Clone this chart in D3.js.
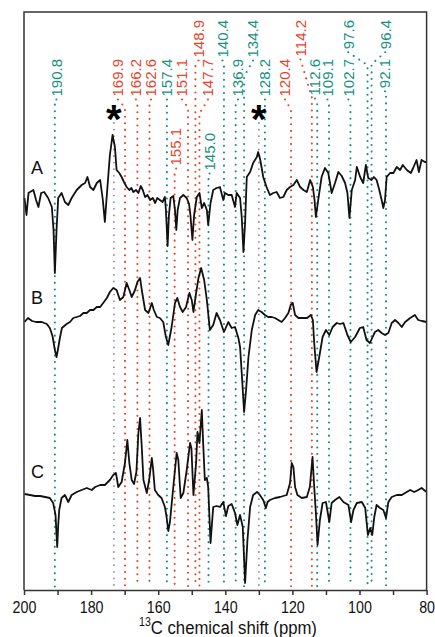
<!DOCTYPE html>
<html>
<head>
<meta charset="utf-8">
<script src="https://cdn.jsdelivr.net/npm/d3@7"></script>
<style>
  body { margin: 0; background: #fff; }
  svg { display: block; font-family: "Liberation Sans", Arial, sans-serif; }
</style>
</head>
<body>
<svg id="chart" width="435" height="637"></svg>
<script>
// assigned shifts (ppm)
const tealShifts = [190.8, 157.4, 145.0, 140.4, 136.9, 134.4, 128.2, 112.6, 109.1, 102.7, 97.6, 96.4, 92.1];
const redShifts = [169.9, 166.2, 162.6, 155.1, 151.1, 148.9, 147.7, 120.4, 114.2];
const starShifts = [173.2, 130.0];

// axis ticks
const tickValues = [200, 190, 180, 170, 160, 150, 140, 130, 120, 110, 100, 90, 80];
const tickLabels = ["200", "180", "160", "140", "120", "100", "80"];

// spectra: [ppm, intensity]
const spectrumA = [
  [199.85, -6], [199.25, -23], [198.66, -1], [198.2, 0], [197.2, 2], [196.4, -8], [195.7, -15],
  [194.9, -1], [194.0, 0], [192.8, -6], [191.7, -15], [191.2, -38], [190.8, -81], [190.3, -38],
  [189.8, -6], [188.8, -1], [187.8, -10], [186.8, -13], [185.8, -6], [184.3, 2], [182.8, 7],
  [181.8, 9], [181.1, 15], [180.3, 5], [179.3, 2], [178.3, 9], [177.3, 12], [176.5, -8],
  [175.9, -30], [175.2, 2], [174.9, 15], [174.4, 37], [173.6, 57], [172.9, 45], [172.4, 22],
  [171.6, 19], [170.9, 15], [170.2, 10], [169.4, 5], [168.6, 2], [168.0, 4], [167.4, 0],
  [166.6, 2], [165.9, -1], [165.2, 6], [164.6, 2], [163.9, -5], [163.2, -3], [162.4, -8],
  [161.6, -6], [160.9, -11], [160.3, -6], [159.5, -8], [158.7, -10], [158.0, -5], [157.7, -18],
  [157.2, -54], [156.8, -23], [156.3, -6], [155.5, -4], [155.0, -18], [154.6, -38], [154.2, -18],
  [153.5, -6], [152.5, -3], [151.5, -6], [150.8, -12], [150.4, -23], [149.8, -48], [149.3, -23],
  [148.5, -5], [147.7, -1], [147.0, -16], [146.3, -11], [145.5, -18], [145.1, -33], [144.4, -11],
  [143.6, 2], [142.6, 4], [141.6, 5], [140.6, -8], [140.1, -1], [139.1, -3], [138.1, -3],
  [137.1, -15], [136.6, -1], [135.6, -6], [135.1, -25], [134.6, -60], [134.1, -31], [133.6, 15],
  [132.6, 20], [131.7, 29], [130.6, 35], [130.2, 40], [129.7, 34], [129.2, 25], [128.7, 15],
  [127.7, 5], [126.7, -3], [125.7, -1], [124.7, 0], [123.7, -6], [122.7, -5], [121.7, 2],
  [120.7, 5], [119.7, 7], [118.7, 12], [117.7, 5], [116.7, 2], [115.7, 0], [114.7, 12],
  [113.9, 5], [113.4, -8], [113.0, -25], [112.3, -8], [111.3, 15], [110.3, 24], [109.3, 19],
  [108.3, -1], [107.3, 9], [106.3, 20], [105.3, 16], [104.3, 9], [103.6, -1], [103.0, -26],
  [102.3, 2], [101.3, 12], [100.8, 25], [99.8, 15], [98.9, 9], [98.1, 27], [97.4, 14],
  [96.4, 12], [95.7, 15], [94.9, 12], [94.1, 2], [93.4, -8], [92.9, -16], [92.4, -8],
  [91.9, 15], [90.9, 19], [89.9, 19], [88.9, 25], [87.9, 22], [87.1, 27], [85.9, 22],
  [84.7, 19], [84.0, 24], [83.0, 32], [82.3, 20], [81.5, 32], [80.5, 30], [80.0, 30]
];

const spectrumB = [
  [199.85, 0], [198.8, 4], [197.6, 1], [196.4, 0], [194.7, 0], [193.2, -2], [192.3, -6],
  [191.5, -14], [190.8, -28], [190.3, -35], [189.8, -26], [189.3, -16], [188.7, -6], [187.3, -2],
  [186.3, 0], [185.3, 4], [184.3, 5], [183.3, 6], [182.3, 9], [181.3, 9], [180.3, 12],
  [179.3, 12], [178.3, 15], [177.3, 15], [176.4, 19], [175.3, 24], [174.4, 30], [173.4, 34],
  [172.4, 32], [171.4, 22], [170.4, 25], [169.4, 39], [168.6, 32], [167.9, 25], [166.9, 32],
  [166.2, 40], [165.4, 44], [164.9, 32], [163.9, 12], [162.9, 9], [161.9, 19], [161.3, 12],
  [160.4, 5], [159.5, 4], [158.5, 0], [157.7, -15], [157.0, -23], [156.0, -5], [155.0, 19],
  [154.3, 24], [153.5, 15], [152.7, 10], [151.7, 15], [150.7, 29], [150.0, 22], [149.5, 10],
  [148.7, 29], [148.0, 44], [147.2, 54], [146.3, 42], [145.5, 22], [144.6, -8], [143.6, -3],
  [142.6, 9], [141.6, 2], [140.4, -10], [139.1, 0], [138.1, -6], [137.1, -5], [136.1, -16],
  [135.6, -25], [135.1, -51], [134.4, -90], [133.8, -68], [133.1, -35], [132.1, -8], [131.1, 7],
  [130.2, 12], [129.2, 10], [128.2, 7], [127.2, 5], [126.2, 5], [125.2, 4], [124.2, 2],
  [123.2, 0], [122.2, 4], [121.2, 9], [120.5, 17], [119.9, 19], [119.2, 7], [118.2, 4],
  [116.9, 4], [115.6, 4], [114.5, 7], [113.9, 2], [113.5, -21], [112.8, -50], [112.0, -35],
  [111.0, -15], [110.0, -8], [109.0, -13], [108.0, -5], [106.8, -1], [105.8, -2], [104.8, -1],
  [103.6, -13], [102.6, -20], [101.3, -15], [99.9, -6], [98.9, -5], [97.9, -18], [96.9, -21],
  [96.1, -15], [95.4, -10], [94.4, -8], [93.4, -11], [92.4, -13], [91.4, -11], [90.4, -1],
  [89.4, 2], [88.4, -1], [87.4, -5], [86.4, 0], [84.9, 4], [83.5, 7], [82.5, 2], [81.4, 1], [80.0, 0]
];

const spectrumC = [
  [199.85, 1], [198.2, 0], [196.7, -1], [195.2, -1], [193.7, -2], [192.3, -3], [191.3, -8],
  [190.6, -20], [190.3, -40], [190.1, -52], [189.8, -30], [189.5, -15], [188.8, -3], [187.8, 0],
  [186.8, -7], [185.8, 0], [184.3, 3], [182.8, 5], [181.3, 7], [179.8, 5], [178.8, 8],
  [177.3, 10], [175.9, 10], [174.4, 15], [173.4, 20], [172.6, 22], [171.9, 8], [170.9, 13],
  [169.9, 32], [169.2, 55], [168.6, 32], [167.9, 15], [167.2, 11], [166.5, 23], [165.9, 62],
  [165.4, 77], [164.9, 48], [164.4, 15], [163.4, 2], [162.7, 15], [161.9, 37], [161.5, 25],
  [161.0, 5], [160.0, 0], [159.0, -3], [158.0, -12], [157.5, -22], [157.0, -36], [156.5, -27],
  [155.5, 8], [154.5, 42], [154.0, 35], [153.3, -3], [152.5, 2], [151.5, 25], [150.5, 52],
  [150.1, 47], [149.5, 0], [148.7, 32], [148.3, 63], [147.7, 52], [147.0, 85], [146.6, 52],
  [146.1, 15], [145.5, 17], [145.1, 8], [144.4, -48], [143.6, -12], [142.6, -11], [141.6, -12],
  [140.6, -7], [139.8, -21], [139.1, -11], [138.1, -9], [137.1, -18], [136.4, -30], [135.6, -20],
  [134.8, -32], [134.1, -88], [133.4, -45], [132.6, -12], [131.7, 0], [130.5, 3], [129.7, 0],
  [128.7, -5], [127.9, -13], [127.4, -7], [126.7, -5], [125.2, -3], [123.7, -2], [121.7, 0],
  [120.7, 12], [120.2, 32], [119.7, 28], [119.2, 8], [118.5, 0], [117.2, -3], [115.7, -2],
  [114.8, 8], [114.0, 38], [113.5, 8], [113.0, -18], [112.5, -50], [111.8, -25], [111.0, -8],
  [110.0, -7], [109.0, -27], [108.3, -8], [107.3, -5], [106.0, -2], [104.8, -7], [103.3, -10],
  [102.5, -27], [101.8, -15], [100.8, -8], [99.3, -7], [98.3, -13], [97.5, -40], [96.8, -33],
  [96.2, -40], [95.6, -22], [94.9, -10], [93.9, -13], [92.9, -15], [92.1, -23], [91.4, -7],
  [90.4, -2], [88.9, 0], [87.4, 0], [85.9, 3], [84.9, 5], [83.7, 3], [82.5, 5], [81.5, 7], [80.0, 3]
];

const traceNames = ["A", "B", "C"];

// layout
const frame = { left: 24, right: 426.6, top: 12, bottom: 590 };
const traceBase = [192, 322, 495];
const labelTops = [20, 59, 128, 133];
// label layout: [row, x shift (px), leader drop (px)]
const labelLayout = {
  "190.8": [1, 1.5, 0], "169.9": [1, -7, 8], "166.2": [1, -1.5, 2], "162.6": [1, 1.5, 2],
  "157.4": [1, 0, 0], "155.1": [2, 1.5, 2], "151.1": [1, -6, 8], "148.9": [0, 3, 4],
  "147.7": [1, 8.5, 14], "145.0": [3, 1, 0], "140.4": [0, -1.5, 2], "136.9": [1, 2.3, 3],
  "134.4": [0, 9, 16], "128.2": [1, 0, 0], "120.4": [1, -6, 10], "114.2": [0, -11.4, 38],
  "112.6": [1, -2.2, 3], "109.1": [1, -1.5, 2], "102.7": [1, -2, 3], "97.6": [0, -19.3, 13],
  "96.4": [0, 13.7, 12], "92.1": [1, -1, 0]
};
const teal = "#16917f";
const red = "#e8432c";
const grey = "#8a8a8a";
const dotY = 587;

const svg = d3.select("#chart");

const x = d3.scaleLinear().domain([200, 80]).range([frame.left, frame.right]);
const y = d3.scaleLinear().domain([-100, 100]).range([100, -100]);

const fmt = d3.format(".1f");

// peak table
var peaks = [];
tealShifts.forEach(p => peaks.push({ ppm: p, color: teal }));
redShifts.forEach(p => peaks.push({ ppm: p, color: red }));

// dotted guide lines + labels
var guides = svg.append("g");
var labels = svg.append("g");

peaks.forEach(function (d) {
  var key = fmt(d.ppm);
  var lay = labelLayout[key];
  var lineX = x(d.ppm);
  var lx = lineX + lay[1];
  var top = labelTops[lay[0]];

  var t = labels.append("text")
    .attr("transform", `translate(${lx},${top}) rotate(-90)`)
    .attr("text-anchor", "end")
    .attr("dy", "0.35em")
    .attr("fill", d.color)
    .style("font-size", "15px")
    .text(key);

  var bottom = top + t.node().getComputedTextLength() + 3;
  var path = d3.path();
  path.moveTo(lx, bottom);
  path.lineTo(lineX, bottom + lay[2]);
  path.lineTo(lineX, dotY);

  guides.append("path")
    .attr("d", path.toString())
    .attr("fill", "none")
    .attr("stroke", d.color)
    .attr("stroke-width", 2.1)
    .attr("stroke-linecap", "round")
    .attr("stroke-dasharray", "0 6.6");
});

// asterisk markers
starShifts.forEach(function (p) {
  guides.append("line")
    .attr("x1", x(p)).attr("x2", x(p))
    .attr("y1", 123).attr("y2", dotY)
    .attr("stroke", grey)
    .attr("stroke-width", 1.8)
    .attr("stroke-linecap", "round")
    .attr("stroke-dasharray", "0 6.6");

  labels.append("text")
    .attr("x", x(p))
    .attr("y", 110 + 0.57 * 40)
    .attr("text-anchor", "middle")
    .style("font-size", "40px")
    .style("font-weight", "bold")
    .text("*");
});

// spectra
var line = d3.line()
  .x(d => x(d[0]))
  .y(d => y(d[1]));

[spectrumA, spectrumB, spectrumC].forEach(function (data, i) {
  var g = svg.append("g").attr("transform", `translate(0,${traceBase[i]})`);
  g.append("path")
    .datum(data)
    .attr("d", line)
    .attr("fill", "none")
    .attr("stroke", "#111")
    .attr("stroke-width", 1.8)
    .attr("stroke-linejoin", "round");
});

// trace names
var nameY = [174, 304, 478];
traceNames.forEach(function (n, i) {
  svg.append("text")
    .attr("x", 31)
    .attr("y", nameY[i])
    .style("font-size", "18px")
    .attr("fill", "#111")
    .text(n);
});

// frame
svg.append("path")
  .attr("d", `M${frame.left},${frame.bottom}V${frame.top}H${frame.right}V${frame.bottom}`)
  .attr("fill", "none")
  .attr("stroke", "#333")
  .attr("stroke-width", 1.5);

// x axis
var xaxis = svg.append("g")
  .attr("transform", `translate(0,${frame.bottom})`)
  .call(d3.axisBottom(x)
    .tickValues(tickValues)
    .tickSize(5)
    .tickSizeOuter(0)
    .tickPadding(6)
    .tickFormat(v => tickLabels.includes(String(v)) ? String(v) : ""));

xaxis.select(".domain").attr("stroke", "#333").attr("stroke-width", 1.5);
xaxis.selectAll(".tick line").attr("stroke", "#333").attr("stroke-width", 1.5);
xaxis.selectAll(".tick text")
  .attr("fill", "#111")
  .attr("transform", "scale(0.84,1)")
  .style("font-size", "17px")
  .style("font-family", "Liberation Sans, Arial, sans-serif");

// axis title
var title = svg.append("text")
  .attr("transform", "translate(228,631) scale(0.88,1)")
  .attr("text-anchor", "middle")
  .attr("fill", "#111")
  .style("font-size", "19px");
title.append("tspan").attr("dy", "-0.45em").style("font-size", "12px").text("13");
title.append("tspan").attr("dy", "0.45em").text("C chemical shift (ppm)");
</script>
</body>
</html>
